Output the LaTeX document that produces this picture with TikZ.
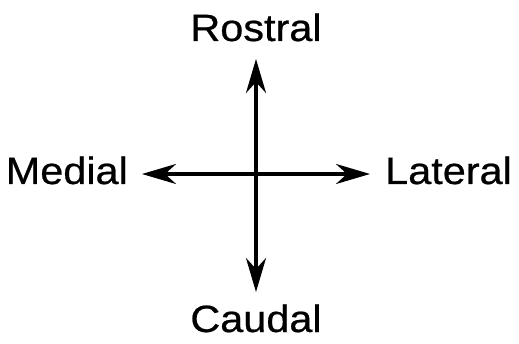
\documentclass[tikz,border=0pt]{standalone}
\usepackage{fontspec}
\setmainfont{Liberation Sans}[FakeStretch=1.09,FakeBold=0.6]
\usetikzlibrary{arrows.meta}
\begin{document}
\begin{tikzpicture}[x=1pt,y=-1pt,
  lbl/.style={font=\fontsize{38}{40}\selectfont, inner sep=0pt},
  tip/.style={Stealth[length=34pt,width=20pt,inset=11pt]},
  axis/.style={line width=3.6pt, {Stealth[length=34pt,width=20pt,inset=11pt]}-{Stealth[length=34pt,width=20pt,inset=11pt]}}]
\useasboundingbox (0,0) rectangle (519,344);
\coordinate (c) at (256,174);
\coordinate (top) at (256,59);
\coordinate (bot) at (256,292);
\coordinate (left) at (142,174);
\coordinate (right) at (370,174);
\draw[axis] (top) -- (bot);
\draw[axis] (left) -- (right);
\node[lbl, anchor=base] (r) at (256,41) {Rostral};
\node[lbl, anchor=base] (cd) at (256,332) {Caudal};
\node[lbl, anchor=base east] (m) at (128,184) {Medial};
\node[lbl, anchor=base west] (l) at (385,184) {Lateral};
\end{tikzpicture}
\end{document}
